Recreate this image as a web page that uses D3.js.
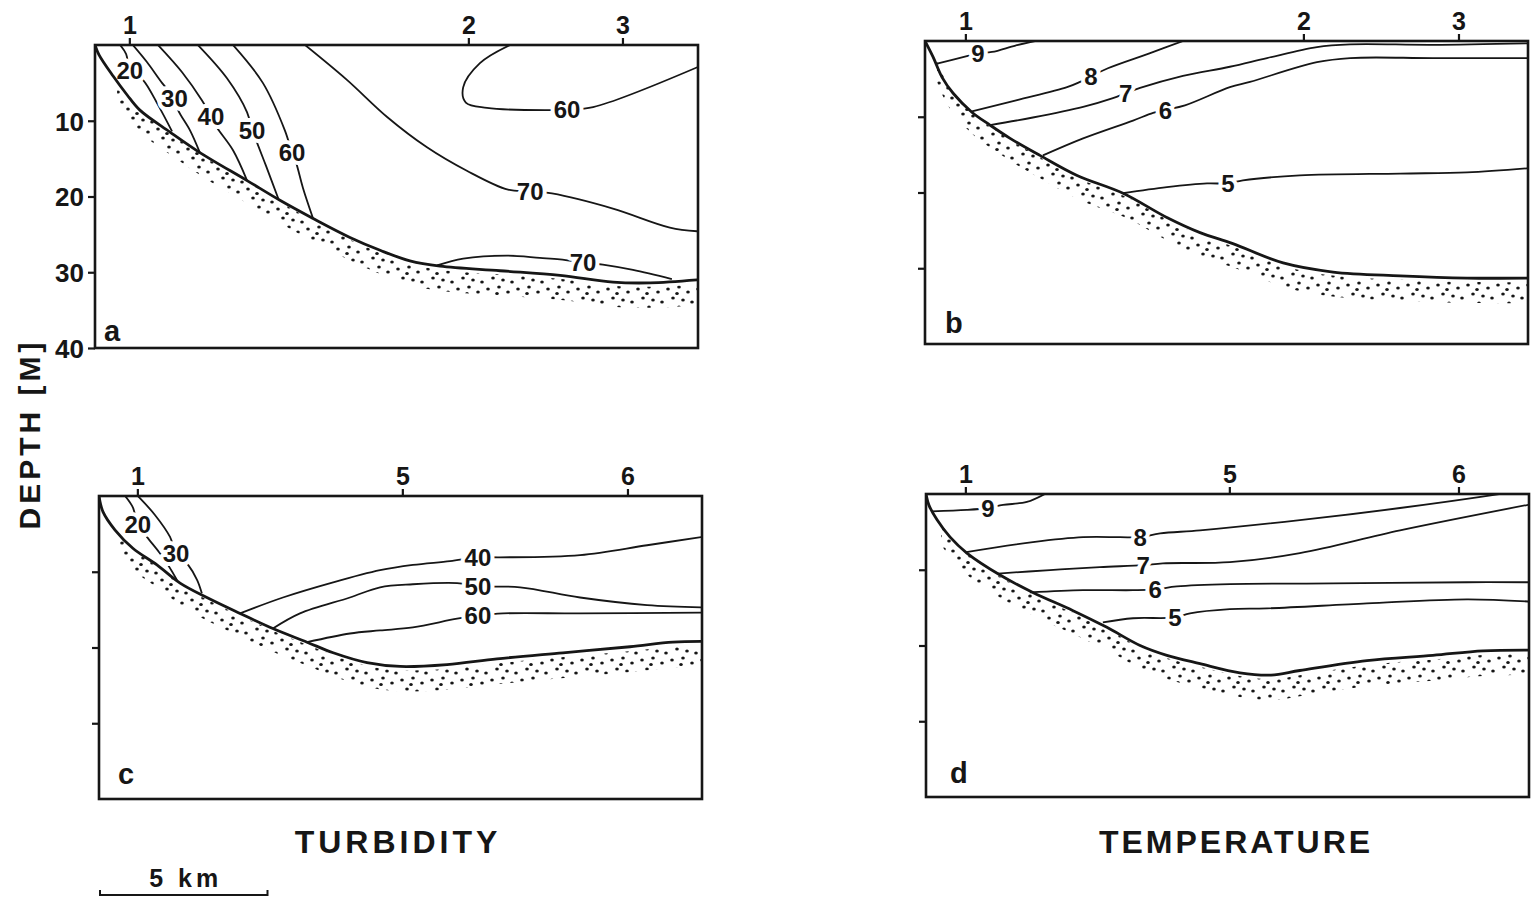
<!DOCTYPE html>
<html>
<head>
<meta charset="utf-8">
<script src="https://cdn.jsdelivr.net/npm/d3@7"></script>
<style>
  html, body { margin: 0; padding: 0; background: #fff; }
  svg { display: block; }
  text { font-family: "Liberation Sans", Arial, Helvetica, sans-serif; font-weight: bold; fill: #161616; }
</style>
</head>
<body>
<script>
// ---------------- DATA (distance in km, depth in m) ----------------
const depthTicksLabeled = [10, 20, 30, 40];
const depthTicks = [10, 20, 30];

const stationNamesAB = ["1", "2", "3"];
const stationKmA = [1.04, 11.16, 15.76];
const stationKmB = [1.22, 11.31, 15.94];
const stationNamesCD = ["1", "5", "6"];
const stationKmC = [1.16, 9.07, 15.79];
const stationKmD = [1.19, 9.07, 15.91];

// Panel a (turbidity, upper section)
const seabedA = [[0,0],[0.12,1.3],[0.54,4.1],[0.96,6.6],[1.34,8.6],[2.24,11.5],[3.13,14.2],[4.54,17.9],[5.52,20.5],[6.51,22.9],[7.61,25.4],[8.51,27.1],[9.40,28.5],[10.30,29.2],[12.09,29.8],[13.88,30.4],[15.46,31.3],[16.57,31.4],[18,31.0]];
const a20 = [[0.75,0],[0.93,1.2],[1.04,3.3],[1.43,4.6],[1.88,7.9],[2.30,11.4]];
const a30 = [[1.13,0],[1.55,2.25],[2.0,5.0],[2.37,7.0],[2.48,8.6],[2.84,11.3],[3.13,14.2]];
const a40 = [[1.88,0],[2.60,3.6],[3.19,7.3],[3.46,9.4],[3.64,10.9],[4.12,13.9],[4.54,17.9]];
const a50 = [[3.07,0],[3.94,4.4],[4.54,8.9],[4.69,11.3],[4.81,12.6],[5.10,15.9],[5.49,20.5]];
const a60 = [[4.12,0],[5.01,5.0],[5.67,11.3],[5.88,14.2],[6.0,15.5],[6.21,18.9],[6.51,22.9]];
const a70 = [[6.27,0],[7.52,4.6],[8.72,9.5],[9.91,13.5],[11.10,16.6],[12.33,19.1],[12.99,19.3],[13.64,19.6],[15.46,21.6],[17.16,24.1],[18,24.6]];
const a60b = [[12.39,0],[11.49,2.4],[10.99,5.6],[11.07,7.6],[11.70,8.3],[13.43,8.6],[14.09,8.5],[14.87,8.2],[18,2.9]];
const a70b = [[10.21,29.1],[10.99,28.2],[12.30,27.8],[13.28,28.1],[13.88,28.3],[14.57,28.7],[15.16,29.0],[16.06,29.7],[17.22,30.9]];
const labelsA = [["20",1.04,3.3],["30",2.37,7.0],["40",3.46,9.4],["50",4.69,11.3],["60",5.88,14.2],["70",12.99,19.3],["60",14.09,8.5],["70",14.57,28.7]];

// Panel b (temperature, upper section)
const seabedB = [[0,0],[0.24,2.1],[0.51,4.8],[0.84,6.9],[1.40,9.4],[1.94,11.1],[2.54,12.85],[3.43,15.1],[4.54,17.75],[5.91,20.1],[7.22,23.3],[8.21,25.3],[9.19,26.75],[10.69,29.3],[12.18,30.5],[14.18,31.0],[16.18,31.3],[18,31.3]];
const b9 = [[0.36,3.0],[1.25,2.0],[1.58,1.6],[2.0,1.45],[2.7,0.6],[3.3,0]];
const b8 = [[1.40,9.3],[2.75,7.8],[4.24,6.1],[4.63,5.4],[4.95,4.7],[5.46,3.6],[6.72,1.6],[7.70,0]];
const b7 = [[1.94,11.1],[3.22,10.1],[4.72,8.7],[5.61,7.55],[5.99,6.9],[6.42,6.2],[7.70,4.6],[9.10,3.4],[10.21,2.25],[11.70,0.8],[12.69,0.45],[15.16,0.5],[18,0.3]];
const b6 = [[3.52,15.1],[4.72,12.85],[6.21,10.5],[6.81,9.5],[7.18,9.1],[7.76,8.5],[9.10,6.1],[9.70,5.4],[11.70,2.8],[12.69,2.25],[15.16,2.25],[18,2.25]];
const b5 = [[5.91,20.1],[7.22,19.3],[8.42,18.8],[9.04,18.8],[9.49,18.4],[11.19,17.75],[14.18,17.5],[16.18,17.35],[18,16.8]];
const labelsB = [["9",1.58,1.6],["8",4.95,4.7],["7",5.99,6.9],["6",7.18,9.1],["5",9.04,18.8]];

// Panel c (turbidity, lower section)
const seabedC = [[0,0],[0.12,2.1],[0.48,4.5],[1.01,6.9],[1.73,9.1],[2.42,11.5],[3.22,13.4],[4.21,15.5],[5.19,17.5],[6.21,19.3],[6.99,20.7],[8.0,22.0],[8.99,22.5],[10.39,22.25],[11.88,21.5],[13.85,20.7],[15.85,19.9],[17.13,19.3],[18,19.2]];
const c20 = [[0.78,0],[1.01,1.5],[1.16,3.8],[1.43,5.4],[1.91,8.1],[2.33,11.1]];
const c30 = [[1.16,0],[1.67,2.5],[2.12,5.4],[2.30,7.55],[2.66,9.1],[2.93,11.1],[3.07,12.85]];
const c40 = [[4.21,15.5],[5.49,13.4],[6.99,11.4],[8.39,9.8],[9.37,9.1],[10.48,8.6],[11.31,8.1],[11.97,8.1],[14.36,7.8],[16.36,6.5],[18,5.4]];
const c50 = [[5.19,17.5],[6.0,15.5],[7.49,13.4],[8.39,12.05],[9.37,11.65],[10.69,11.5],[11.31,11.9],[12.57,12.05],[14.36,13.4],[16.36,14.4],[18,14.7]];
const c60 = [[6.21,19.3],[7.49,18.15],[8.39,17.75],[9.37,17.35],[10.69,16.2],[11.31,15.8],[12.06,15.5],[14.36,15.5],[18,15.4]];
const labelsC = [["20",1.16,3.8],["30",2.30,7.55],["40",11.31,8.1],["50",11.31,11.9],["60",11.31,15.8]];

// Panel d (temperature, lower section)
const seabedD = [[0,0],[0.09,1.5],[0.33,3.4],[0.72,5.7],[1.22,7.8],[2.21,10.7],[3.19,13.0],[4.39,15.4],[5.40,17.6],[6.39,20.0],[7.19,21.3],[8.18,22.4],[9.37,23.6],[10.3,23.9],[11.16,23.3],[13.16,22.0],[15.13,21.3],[16.63,20.7],[18,20.6]];
const d9 = [[0.18,2.3],[1.22,2.1],[1.85,1.85],[2.30,1.45],[3.01,1.05],[3.55,0]];
const d8 = [[1.16,7.7],[3.19,6.35],[4.69,5.7],[5.79,5.7],[6.39,5.7],[6.99,5.2],[8.18,4.8],[11.16,3.45],[14.15,1.85],[17.13,0]];
const d7 = [[2.15,10.5],[3.70,10.05],[5.19,9.65],[6.48,9.4],[7.07,9.15],[9.07,9.0],[11.16,7.8],[14.15,4.8],[18,1.4]];
const d6 = [[3.10,13.0],[4.69,12.7],[6.18,12.7],[6.84,12.6],[7.49,12.2],[9.07,11.9],[12.15,11.8],[16.15,11.65],[18,11.65]];
const d5 = [[5.28,16.95],[6.18,16.4],[7.43,16.3],[7.88,15.75],[9.07,15.2],[10.18,15.1],[13.16,14.45],[16.15,13.9],[18,14.2]];
const labelsD = [["9",1.85,1.85],["8",6.39,5.7],["7",6.48,9.4],["6",6.84,12.6],["5",7.43,16.3]];

const scaleBarKm = 5;
const titles = ["TURBIDITY", "TEMPERATURE"];
const axisTitle = "DEPTH [M]";

// ---------------- LAYOUT ----------------
const W = 603, H = 303;
const panels = [
  { id: "a", ox: 95,  oy: 45,  seabed: seabedA, lines: [a20,a30,a40,a50,a60,a70,a60b,a70b], labels: labelsA, names: stationNamesAB, km: stationKmA, ticks: depthTicksLabeled, showLabels: true,  letter: [9, H-7] },
  { id: "b", ox: 925, oy: 41,  seabed: seabedB, lines: [b9,b8,b7,b6,b5], labels: labelsB, names: stationNamesAB, km: stationKmB, ticks: depthTicks, showLabels: false, letter: [20, H-11] },
  { id: "c", ox: 99,  oy: 496, seabed: seabedC, lines: [c20,c30,c40,c50,c60], labels: labelsC, names: stationNamesCD, km: stationKmC, ticks: depthTicks, showLabels: false, letter: [19, H-15] },
  { id: "d", ox: 926, oy: 494, seabed: seabedD, lines: [d9,d8,d7,d6,d5], labels: labelsD, names: stationNamesCD, km: stationKmD, ticks: depthTicks, showLabels: false, letter: [24, H-14] }
];

const x = d3.scaleLinear().domain([0, 18]).range([0, W]);
const y = d3.scaleLinear().domain([0, 40]).range([0, H]);

const ink = "#161616";
const svg = d3.select("body").append("svg").attr("width", 1531).attr("height", 901);
svg.append("rect").attr("width", 1531).attr("height", 901).attr("fill", "#fff");

const defs = svg.append("defs");
const pat = defs.append("pattern").attr("id", "dots").attr("patternUnits", "userSpaceOnUse")
  .attr("width", 30).attr("height", 20);
[[3,4],[14,2],[23,7],[8,13],[18,15],[27,17],[12,8.5]].forEach(p => {
  pat.append("ellipse").attr("cx", p[0]).attr("cy", p[1]).attr("rx", 1.8).attr("ry", 1.5).attr("fill", ink);
});

const line = d3.line().x(d => x(d[0])).y(d => y(d[1])).curve(d3.curveCatmullRom.alpha(0.5));
const band = d3.area().x(d => x(d[0]) + 4).y0(d => y(d[1]) + 4).y1(d => y(d[1]) + 25).curve(d3.curveCatmullRom.alpha(0.5));

panels.forEach(p => {
  const g = svg.append("g").attr("transform", `translate(${p.ox},${p.oy})`);
  defs.append("clipPath").attr("id", "clip-" + p.id)
    .append("rect").attr("x", 1).attr("y", 1).attr("width", W - 2).attr("height", H - 2);

  // sediment stipple
  g.append("path").datum(p.seabed.filter(d => d[0] >= 0.2))
    .attr("d", band).attr("fill", "url(#dots)").attr("clip-path", `url(#clip-${p.id})`);

  // contour lines
  g.selectAll("path.iso").data(p.lines).join("path").attr("class", "iso")
    .attr("d", line).attr("fill", "none").attr("stroke", ink).attr("stroke-width", 1.8)
    .attr("clip-path", `url(#clip-${p.id})`);

  // contour labels
  g.selectAll("text.lab").data(p.labels).join("text").attr("class", "lab")
    .attr("x", d => x(d[1])).attr("y", d => y(d[2])).attr("dy", "0.36em")
    .attr("text-anchor", "middle").attr("font-size", 24)
    .attr("stroke", "#fff").attr("stroke-width", 8).attr("paint-order", "stroke").attr("stroke-linejoin", "round")
    .text(d => d[0]);

  // seabed line
  g.append("path").datum(p.seabed).attr("d", line).attr("fill", "none")
    .attr("stroke", ink).attr("stroke-width", 2.8).attr("clip-path", `url(#clip-${p.id})`);

  // frame
  g.append("rect").attr("width", W).attr("height", H).attr("fill", "none")
    .attr("stroke", ink).attr("stroke-width", 2.6);

  // station ticks (top)
  const st = g.selectAll("g.st").data(p.km).join("g").attr("class", "st")
    .attr("transform", d => `translate(${x(d)},0)`);
  st.append("line").attr("y1", 0).attr("y2", -7).attr("stroke", ink).attr("stroke-width", 2.2);
  st.append("text").attr("y", -11).attr("text-anchor", "middle").attr("font-size", 25)
    .text((d, i) => p.names[i]);

  // depth axis
  const ax = d3.axisLeft(y).tickValues(p.ticks).tickSize(7).tickPadding(4)
    .tickFormat(p.showLabels ? d3.format("d") : () => "");
  const axg = g.append("g").call(ax);
  axg.select(".domain").remove();
  axg.selectAll(".tick line").attr("stroke", ink).attr("stroke-width", 2.2);
  axg.selectAll(".tick text").attr("font-size", 26).attr("font-family", null).attr("fill", ink).attr("dy", "0.36em");

  // panel letter
  g.append("text").attr("x", p.letter[0]).attr("y", p.letter[1]).attr("font-size", 29).text(p.id);
});

// vertical axis title
svg.append("text").attr("transform", "translate(40,434) rotate(-90)")
  .attr("text-anchor", "middle").attr("font-size", 30).attr("letter-spacing", 4).text(axisTitle);

// bottom titles
svg.append("text").attr("x", 398).attr("y", 853).attr("text-anchor", "middle")
  .attr("font-size", 32).attr("letter-spacing", 4).text(titles[0]);
svg.append("text").attr("x", 1236).attr("y", 853).attr("text-anchor", "middle")
  .attr("font-size", 32).attr("letter-spacing", 3).text(titles[1]);

// scale bar
const sb = svg.append("g").attr("transform", "translate(100,895)");
sb.append("line").attr("x1", 0).attr("x2", x(scaleBarKm)).attr("stroke", ink).attr("stroke-width", 2.2);
sb.selectAll("line.end").data([0, scaleBarKm]).join("line").attr("class", "end")
  .attr("x1", d => x(d)).attr("x2", d => x(d)).attr("y1", 1).attr("y2", -5).attr("stroke", ink).attr("stroke-width", 2);
sb.append("text").attr("x", x(scaleBarKm) / 2 + 2).attr("y", -8).attr("text-anchor", "middle")
  .attr("font-size", 25).attr("letter-spacing", 4).text(scaleBarKm + " km");
</script>
</body>
</html>
